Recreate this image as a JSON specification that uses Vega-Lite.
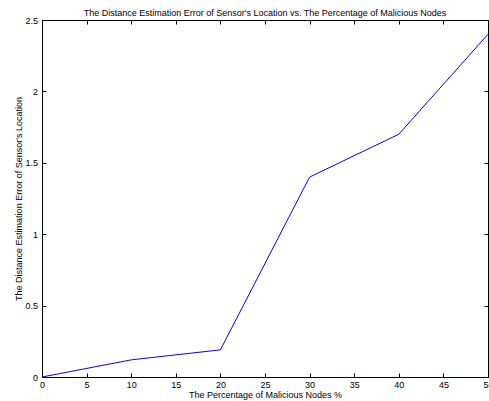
{
  "$schema": "https://vega.github.io/schema/vega-lite/v6.json",
  "autosize": "none",
  "width": 446,
  "height": 357,
  "padding": {"left": 42, "top": 20, "right": 1, "bottom": 24},
  "background": "white",
  "config": {
    "font": "Liberation Sans",
    "view": {"stroke": "black", "strokeWidth": 1},
    "axis": {"grid": false, "domainColor": "black", "tickColor": "black", "labelColor": "black", "titleColor": "black", "labelFont": "Liberation Sans", "titleFont": "Liberation Sans", "labelFontSize": 9, "titleFontSize": 9, "titleFontWeight": "normal"}
  },
  "title": {"text": "The Distance Estimation Error of Sensor's Location vs. The Percentage of Malicious Nodes", "fontSize": 9, "fontWeight": "normal", "font": "Liberation Sans", "color": "black", "offset": -2, "anchor": "middle"},
  "data": {"values": [
    {"pct": 0, "err": 0},
    {"pct": 10, "err": 0.12},
    {"pct": 20, "err": 0.19},
    {"pct": 30, "err": 1.4},
    {"pct": 40, "err": 1.7},
    {"pct": 50, "err": 2.4}
  ]},
  "layer": [
    {
      "mark": {"type": "line", "color": "#0000ff", "strokeWidth": 1},
      "encoding": {
        "x": {"field": "pct", "type": "quantitative", "scale": {"domain": [0, 50], "nice": false},
              "axis": {"title": "The Percentage of Malicious Nodes %", "values": [0,5,10,15,20,25,30,35,40,45,50], "tickSize": -4, "labelPadding": 7, "labelFlush": false, "labelOverlap": false, "titleY": 13, "titleBaseline": "top", "domainWidth": 1}},
        "y": {"field": "err", "type": "quantitative", "scale": {"domain": [0, 2.5], "nice": false},
              "axis": {"title": "The Distance Estimation Error of Sensor's Location", "values": [0, 0.5, 1, 1.5, 2, 2.5], "labelExpr": "'' + datum.value", "tickSize": -4, "labelPadding": 8.5, "labelFlush": false, "labelOverlap": false, "titleX": -19, "titleY": 178.5, "titleBaseline": "bottom"}}
      }
    },
    {
      "mark": {"type": "line", "opacity": 0},
      "encoding": {
        "x": {"field": "pct", "type": "quantitative", "axis": {"orient": "top", "title": null, "labels": false, "domain": false, "values": [0,5,10,15,20,25,30,35,40,45,50], "tickSize": -4, "minExtent": 0, "maxExtent": 0}},
        "y": {"field": "err", "type": "quantitative", "axis": {"orient": "right", "title": null, "labels": false, "domain": false, "values": [0, 0.5, 1, 1.5, 2, 2.5], "tickSize": -4, "minExtent": 0, "maxExtent": 0}}
      }
    }
  ],
  "resolve": {"axis": {"x": "independent", "y": "independent"}}
}
